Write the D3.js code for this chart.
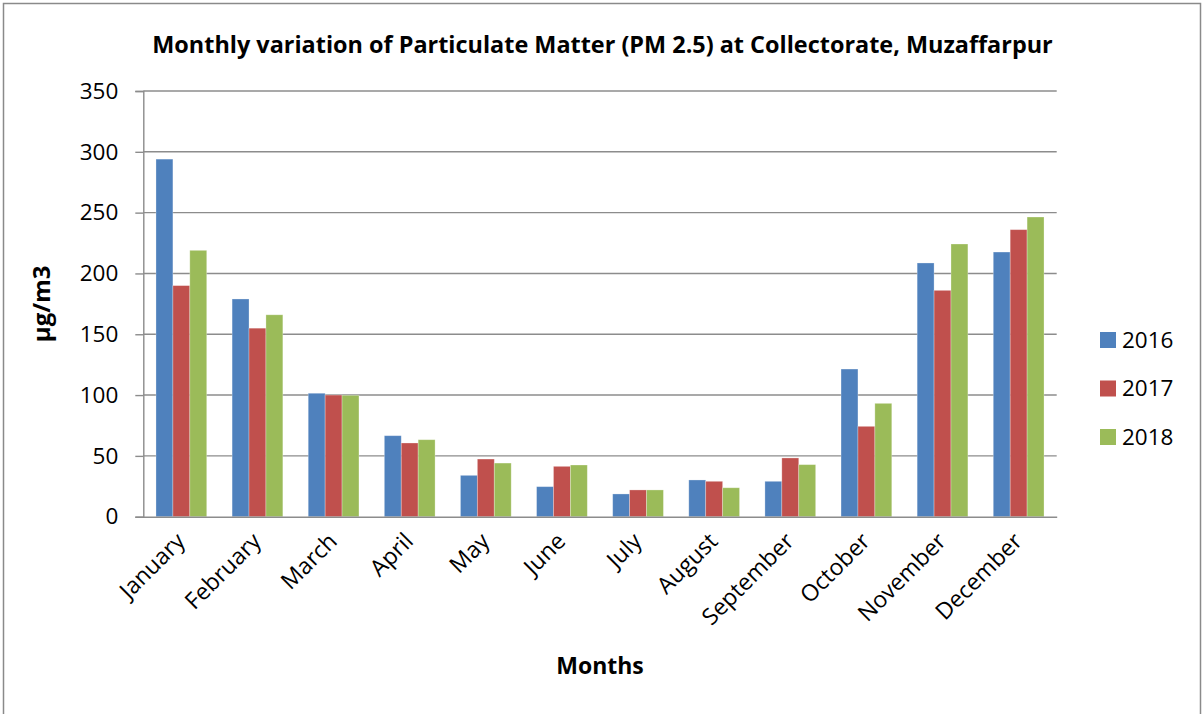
<!DOCTYPE html>
<html><head><meta charset="utf-8">
<script src="https://cdn.jsdelivr.net/npm/d3@7"></script>
<style>body{margin:0;background:#fff}svg{display:block}text{font-family:"Open Sans",sans-serif;fill:#000}</style>
</head><body><svg id="c" width="1203" height="714"></svg>
<script>
const months = ["January","February","March","April","May","June","July","August","September","October","November","December"];
const seriesNames = ["2016","2017","2018"];
const v2016 = [294,179,101.5,66.6,34,24.7,18.7,30.2,29.1,121.4,208.6,217.6];
const v2017 = [190,155,100,60.6,47.4,41.4,22,29.1,48.3,74.3,186.1,236];
const v2018 = [219,166,99.8,63.3,44.1,42.5,22,23.8,42.8,93.2,224.2,246.4];
const yTicks = [0,50,100,150,200,250,300,350];
const colors = ["#4F81BD","#C0504D","#9BBB59"];
const titleText = "Monthly variation of Particulate Matter (PM 2.5) at Collectorate, Muzaffarpur";

const values = [v2016, v2017, v2018];
const svg = d3.select("#c");
const L = 143.3, R = 1056.7, T = 91, B = 516.7;

// frame
svg.append("rect").attr("x",3.5).attr("y",3.5).attr("width",1197).attr("height",740)
  .attr("fill","none").attr("stroke","#8a8a8a").attr("stroke-width",1.5);

const x0 = d3.scaleBand().domain(months).range([L,R]).paddingInner(1/3).paddingOuter(1/6);
const x1 = d3.scaleBand().domain(seriesNames).range([0,x0.bandwidth()]);
const y = d3.scaleLinear().domain([0,350]).range([B,T]);

// gridlines
svg.append("g").selectAll("line").data(yTicks.filter(d=>d>0)).join("line")
  .attr("x1",L).attr("x2",R).attr("y1",d=>y(d)).attr("y2",d=>y(d))
  .attr("stroke","#8c8c8c").attr("stroke-width",1.4);

// y axis
const yAxis = svg.append("g").attr("transform",`translate(${L},0)`)
  .call(d3.axisLeft(y).tickValues(yTicks).tickSize(8).tickPadding(17).tickFormat(d3.format("d")));
yAxis.select(".domain").attr("stroke","#8c8c8c").attr("stroke-width",1.4);
yAxis.selectAll(".tick line").attr("stroke","#8c8c8c").attr("stroke-width",1.4);
yAxis.selectAll(".tick text").attr("font-size",22.5).attr("font-family","Open Sans, sans-serif").attr("fill","#000");

// bars
const groups = svg.append("g").selectAll("g").data(months).join("g")
  .attr("transform",d=>`translate(${x0(d)},0)`);
groups.selectAll("rect").data((m,i)=>seriesNames.map((s,j)=>({s, j, v: values[j][i]}))).join("rect")
  .attr("x",d=>x1(d.s)).attr("width",x1.bandwidth())
  .attr("y",d=>y(d.v)).attr("height",d=>B-y(d.v))
  .attr("fill",d=>colors[d.j])
  .attr("stroke","#ffffff").attr("stroke-opacity",0.35).attr("stroke-width",0.8);

// x axis
const xAxis = svg.append("g").attr("transform",`translate(0,${B})`)
  .call(d3.axisBottom(x0).tickSize(0).tickPadding(0));
xAxis.select(".domain").attr("stroke","#8c8c8c").attr("stroke-width",1.6);
xAxis.selectAll(".tick text")
  .attr("font-size",23).attr("font-family","Open Sans, sans-serif").attr("fill","#000")
  .attr("text-anchor","end").attr("dy",0)
  .attr("transform","translate(5,26) rotate(-45)");

// title
const title = svg.append("text").attr("x",(152+1053)/2).attr("y",53)
  .attr("text-anchor","middle").attr("font-weight","bold").attr("font-size",24).text(titleText);
const tw = title.node().getComputedTextLength();
title.attr("font-size",24*901/tw);

// axis titles
svg.append("text").attr("x",600).attr("y",674).attr("text-anchor","middle")
  .attr("font-weight","bold").attr("font-size",23).text("Months");
svg.append("text").attr("transform",`translate(50,${(T+B)/2}) rotate(-90)`)
  .attr("text-anchor","middle").attr("font-weight","bold").attr("font-size",24).text("µg/m3");

// legend
const leg = svg.append("g").selectAll("g").data(seriesNames).join("g")
  .attr("transform",(d,i)=>`translate(1100,${340 + i*48.5})`);
leg.append("rect").attr("x",0).attr("y",-8).attr("width",16).attr("height",16).attr("fill",(d,i)=>colors[i]);
leg.append("text").attr("x",22).attr("y",0).attr("dy","0.35em").attr("font-size",22.5).text(d=>d);
</script></body></html>
